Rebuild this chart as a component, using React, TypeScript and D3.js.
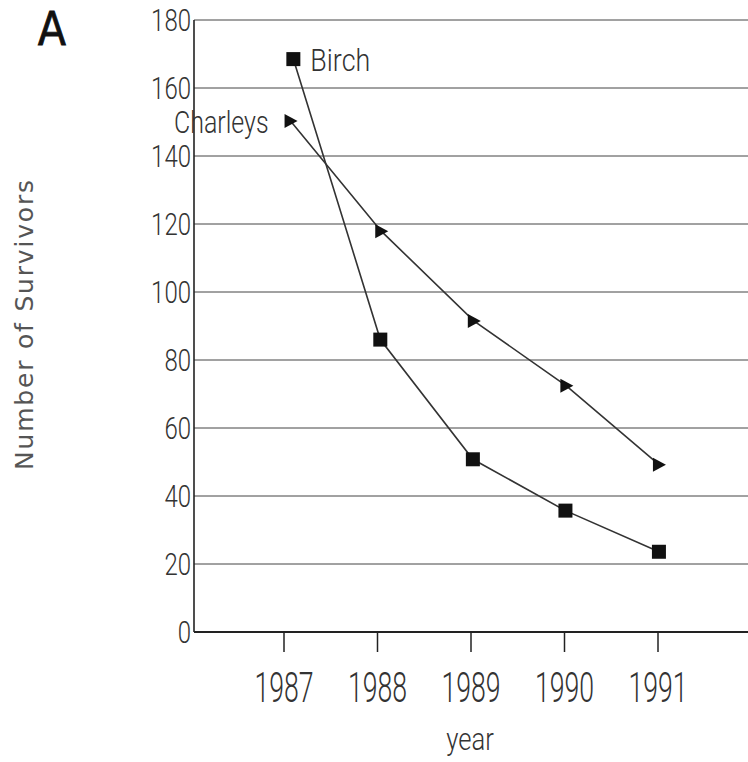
import * as d3 from "d3";

const years = [1987, 1988, 1989, 1990, 1991];
// Birch's first point sits a little right of the 1987 tick in the original
const birchX = [1987.1, 1988.03, 1989.02, 1990.01, 1991.01];
const birchY = [168.5, 86, 50.8, 35.7, 23.6];
const charleysX = [1987.07, 1988.04, 1989.03, 1990.02, 1991.01];
const charleysY = [150.3, 117.9, 91.5, 72.4, 49.2];
const yTicks = [0, 20, 40, 60, 80, 100, 120, 140, 160, 180];

const W = 748;
const H = 762;
const AXIS_LEFT = 194;
const AXIS_RIGHT = 748;
const FONT = "Roboto, 'DejaVu Sans Condensed', sans-serif";
const INK = "#222";

export default function App() {
  const x = d3.scaleLinear().domain([1987, 1991]).range([284, 658]);
  const y = d3.scaleLinear().domain([0, 180]).range([632, 20]);

  const line = d3
    .line<[number, number]>()
    .x((d) => x(d[0]))
    .y((d) => y(d[1]));

  const birch = birchX.map((v, i) => [v, birchY[i]] as [number, number]);
  const charleys = charleysX.map((v, i) => [v, charleysY[i]] as [number, number]);

  const sq = 14;
  const tri = (cx: number, cy: number) =>
    `M${cx - 6},${cy - 7} L${cx + 7},${cy} L${cx - 6},${cy + 7} Z`;

  return (
    <svg
      width={W}
      height={H}
      style={{ position: "absolute", left: 0, top: 0, background: "#fff" }}
    >
      {/* panel letter */}
      <text
        transform="translate(52,45) scale(0.9,1)"
        fontFamily="'DejaVu Sans', sans-serif"
        fontSize={46}
        textAnchor="middle"
        fill="#111"
        stroke="#111"
        strokeWidth={0.8}
      >
        A
      </text>

      {/* gridlines */}
      {yTicks.slice(1).map((t) => (
        <line key={t} x1={AXIS_LEFT} x2={AXIS_RIGHT} y1={y(t)} y2={y(t)} stroke="#444" strokeWidth={1} />
      ))}

      {/* axes */}
      <line x1={AXIS_LEFT} x2={AXIS_LEFT} y1={y(180)} y2={y(0)} stroke={INK} strokeWidth={1.6} />
      <line x1={AXIS_LEFT} x2={AXIS_RIGHT} y1={y(0)} y2={y(0)} stroke={INK} strokeWidth={1.8} />

      {/* y tick labels */}
      {yTicks.map((t) => (
        <text
          key={t}
          transform={`translate(${AXIS_LEFT - 3},${y(t) + 11}) scale(0.75,1)`}
          fontFamily={FONT}
          fontWeight={300}
          fontSize={32}
          textAnchor="end"
          fill="#333"
        >
          {t}
        </text>
      ))}

      {/* x ticks and labels */}
      {years.map((yr) => (
        <g key={yr}>
          <line x1={x(yr)} x2={x(yr)} y1={y(0)} y2={y(0) + 20} stroke={INK} strokeWidth={1.5} />
          <text
            transform={`translate(${x(yr)},${y(0) + 70}) scale(0.62,1)`}
            fontFamily={FONT}
            fontWeight={300}
            fontSize={43}
            textAnchor="middle"
            fill="#333"
          >
            {yr}
          </text>
        </g>
      ))}

      {/* axis titles */}
      <text
        transform={`translate(${470},${750}) scale(0.8,1)`}
        fontFamily={FONT}
        fontWeight={300}
        fontSize={32}
        textAnchor="middle"
        fill="#333"
      >
        year
      </text>
      <text
        transform={`translate(33,${325}) rotate(-90)`}
        fontFamily="'DejaVu Sans', sans-serif"
        fontSize={25}
        textAnchor="middle"
        textLength={290}
        lengthAdjust="spacing"
        fill="#555"
      >
        Number of Survivors
      </text>

      {/* series lines */}
      <path d={line(birch) ?? ""} fill="none" stroke="#333" strokeWidth={1.6} />
      <path d={line(charleys) ?? ""} fill="none" stroke="#333" strokeWidth={1.6} />

      {/* markers */}
      {birch.map((d, i) => (
        <rect key={i} x={x(d[0]) - sq / 2} y={y(d[1]) - sq / 2} width={sq} height={sq} fill="#111" />
      ))}
      {charleys.map((d, i) => (
        <path key={i} d={tri(x(d[0]), y(d[1]))} fill="#111" />
      ))}

      {/* series labels */}
      <text
        transform={`translate(${x(birchX[0]) + 17},${y(birchY[0]) + 12}) scale(0.84,1)`}
        fontFamily={FONT}
        fontWeight={300}
        fontSize={32}
        fill="#333"
      >
        Birch
      </text>
      <text
        transform={`translate(${x(charleysX[0]) - 22},${y(charleysY[0]) + 12}) scale(0.78,1)`}
        fontFamily={FONT}
        fontWeight={300}
        fontSize={32}
        textAnchor="end"
        fill="#333"
      >
        Charleys
      </text>
    </svg>
  );
}
